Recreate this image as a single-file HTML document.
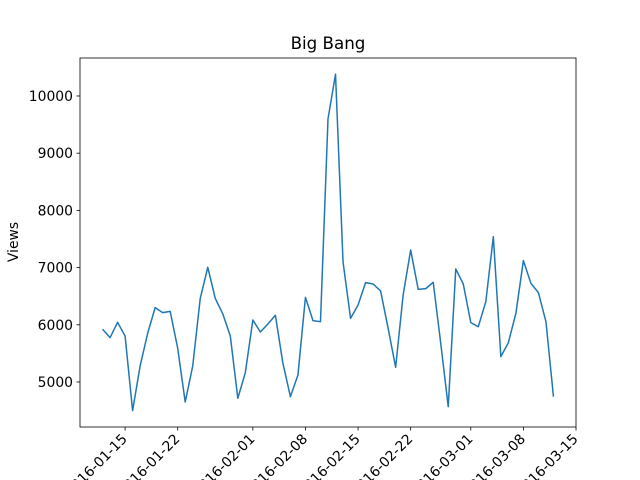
<!DOCTYPE html>
<html><head><meta charset="utf-8"><style>
body{margin:0;background:#fff;}
svg{display:block;font-family:"DejaVu Sans","Liberation Sans",sans-serif;}
</style></head><body>
<svg id="chart" width="640" height="480">
<rect x="0" y="0" width="640" height="480" fill="#fff"/>
<text x="328" y="49" font-size="16.7" text-anchor="middle">Big Bang</text>
<text transform="translate(18,242) rotate(-90)" font-size="13.9" text-anchor="middle">Views</text>
<g id="yticks"></g>
<g id="xticks"></g>
<path id="line" fill="none" stroke="#1f77b4" stroke-width="1.5" stroke-linejoin="round"/>
<rect x="80" y="58" width="496" height="369" fill="none" stroke="#000" stroke-width="0.8"/>
</svg>
<script>
const startDate = "2016-01-12";
const views = [5921,5775,6043,5804,4500,5280,5850,6300,6212,6235,5590,4650,5280,6460,7005,6460,6190,5804,4715,5163,6084,5874,6014,6166,5326,4743,5122,6480,6072,6054,9600,10380,7100,6113,6346,6737,6713,6591,5938,5257,6521,7308,6620,6632,6743,5676,4568,6976,6713,6038,5967,6404,7540,5443,5687,6200,7121,6725,6562,6054,4743];
const yTicks = [5000,6000,7000,8000,9000,10000];
const xTickLabels = ["2016-01-15","2016-01-22","2016-02-01","2016-02-08","2016-02-15","2016-02-22","2016-03-01","2016-03-08","2016-03-15"];

const NS="http://www.w3.org/2000/svg";
const DAY=86400000;
const t0=Date.parse(startDate);
const xMin=t0-3*DAY, xMax=t0+(views.length-1+3)*DAY;
const yMin=4213, yMax=10664;
const X=t=>80+(t-xMin)/(xMax-xMin)*496;
const Y=v=>427-(v-yMin)/(yMax-yMin)*369;

let d="";
views.forEach((v,i)=>{d+=(i?"L":"M")+X(t0+i*DAY).toFixed(2)+","+Y(v).toFixed(2);});
document.getElementById("line").setAttribute("d",d);

const yg=document.getElementById("yticks");
yTicks.forEach(v=>{
  const y=Y(v);
  const l=document.createElementNS(NS,"line");
  l.setAttribute("x1",76.5);l.setAttribute("x2",80);l.setAttribute("y1",y);l.setAttribute("y2",y);l.setAttribute("stroke","#000");l.setAttribute("stroke-width","0.8");
  
  
  yg.appendChild(l);
  const t=document.createElementNS(NS,"text");
  t.setAttribute("x",73);t.setAttribute("y",y+5);t.setAttribute("font-size","13.9");t.setAttribute("text-anchor","end");
  t.textContent=v;
  
  
  yg.appendChild(t);
});
const xg=document.getElementById("xticks");
xTickLabels.forEach(s=>{
  const x=X(Date.parse(s));
  const l=document.createElementNS(NS,"line");
  l.setAttribute("x1",x);l.setAttribute("x2",x);l.setAttribute("y1",427);l.setAttribute("y2",430.5);l.setAttribute("stroke","#000");l.setAttribute("stroke-width","0.8");
  
  
  xg.appendChild(l);
  const t=document.createElementNS(NS,"text");
  t.setAttribute("transform","translate("+(x-4)+",433) rotate(-45)");
  t.setAttribute("font-size","13.9");t.setAttribute("text-anchor","end");t.setAttribute("dominant-baseline","hanging");
  t.textContent=s;
  
  
  xg.appendChild(t);
});
</script>
</body></html>
